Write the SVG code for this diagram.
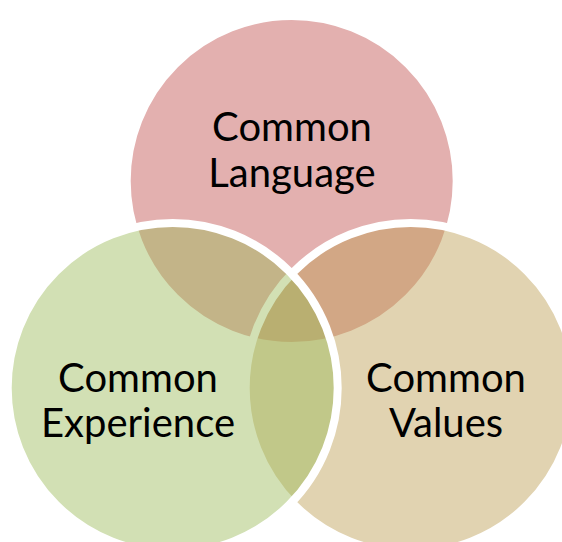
<svg xmlns="http://www.w3.org/2000/svg" width="562" height="542" viewBox="0 0 562 542">
  <style>
    .c { stroke: #ffffff; stroke-width: 8; fill-opacity: 0.45; }
    .t { font-family: Lato, "Noto Sans", "Liberation Sans", sans-serif; font-size: 40px; fill: #000000; text-anchor: middle; }
  </style>
  <rect width="562" height="542" fill="#ffffff"/>
  <g id="language">
    <circle class="c" cx="291.7" cy="181" r="165" fill="#c0504d"/>
  </g>
  <g id="values">
    <circle class="c" cx="410.7" cy="388" r="165" fill="#bc9d52"/>
  </g>
  <g id="experience">
    <circle class="c" cx="172.7" cy="388" r="165" fill="#9bbb59"/>
  </g>
  <g id="labels">
    <text class="t" x="292" y="141">Common</text>
    <text class="t" x="292" y="187">Language</text>
    <text class="t" x="138" y="392">Common</text>
    <text class="t" x="138" y="437">Experience</text>
    <text class="t" x="446" y="392">Common</text>
    <text class="t" x="446" y="437">Values</text>
  </g>
</svg>
